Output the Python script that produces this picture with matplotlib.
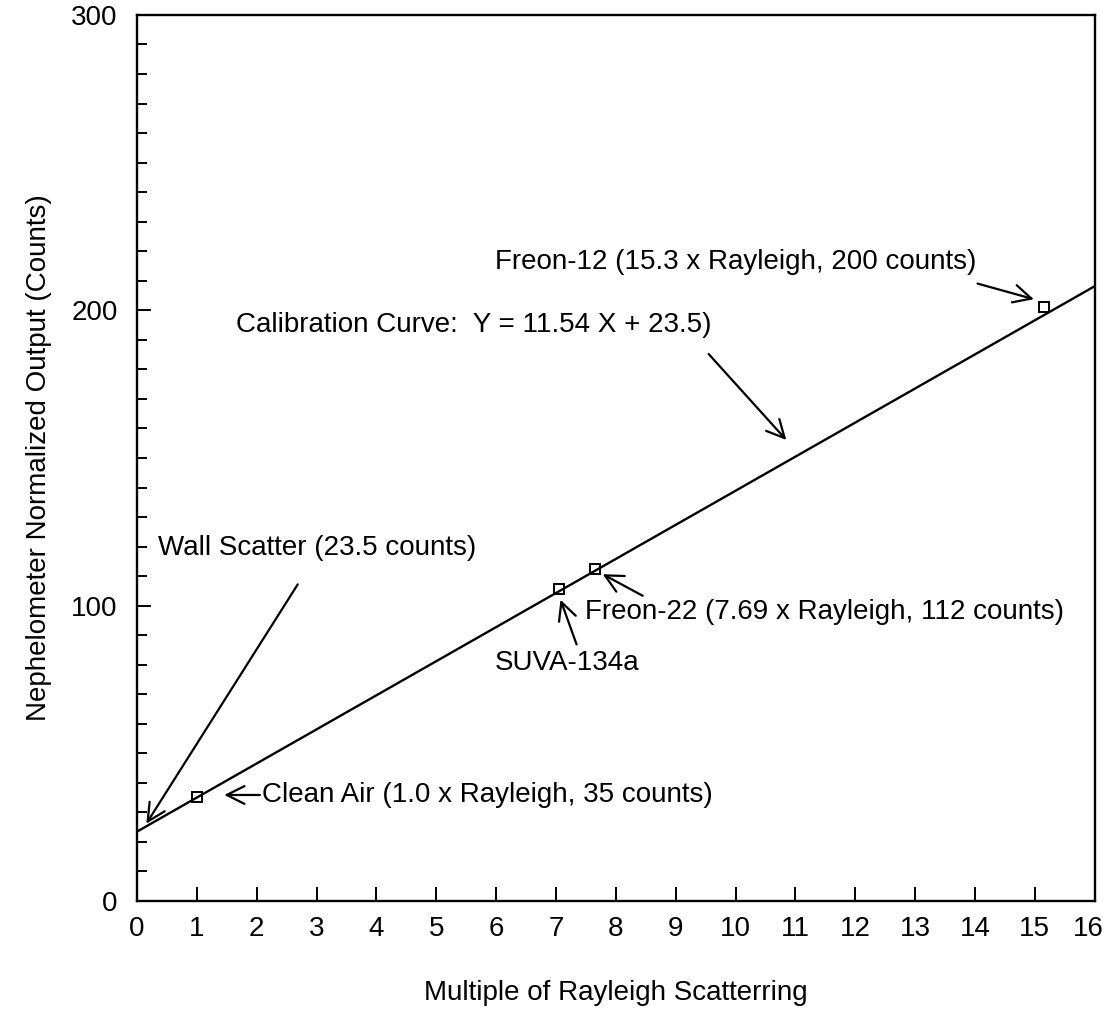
# nephelometer calibration chart
import matplotlib
matplotlib.use('Agg')
import matplotlib.pyplot as plt
import matplotlib.transforms as mtransforms
import numpy as np

plt.rcParams['font.family'] = ['Liberation Sans', 'DejaVu Sans']

# calibration points (multiple of Rayleigh, counts)
gas_names = ['Clean Air', 'SUVA-134a', 'Freon-22', 'Freon-12']
rayleigh_x = [1.0, 7.05, 7.65, 15.15]
counts_y = [35.3, 105.8, 112.4, 201.0]

# fit line Y = slope X + intercept
slope = 11.54
intercept = 23.5
fit_x = np.array([0, 16])
fit_y = slope * fit_x + intercept

fig = plt.figure(figsize=(11.07, 10.24), dpi=100)
ax = fig.add_axes([0.1238, 0.1201, 0.865, 0.8653])

ax.plot(fit_x, fit_y, color='black', lw=1.7)
ax.plot(rayleigh_x, counts_y, 's', mfc='none', mec='black', ms=7, mew=1.4)

ax.set_xlim(0, 16)
ax.set_ylim(0, 300)
ax.set_xticks(range(0, 17))
ax.set_yticks([0, 100, 200, 300])
ax.set_yticks(range(0, 301, 10), minor=True)
ax.tick_params(axis='x', direction='in', length=10, width=1.4, pad=11, labelsize=20)
ax.tick_params(axis='y', which='major', direction='in', length=10, width=1.4, pad=14, labelsize=20)
ax.tick_params(axis='y', which='minor', direction='in', length=7, width=1.4)
for s in ax.spines.values():
    s.set_linewidth(1.7)

# nudge the last x label so it stays inside the figure
shift = mtransforms.ScaledTranslation(-6 / 100, 0, fig.dpi_scale_trans)
last = ax.get_xticklabels()[-1]
last.set_transform(last.get_transform() + shift)

ax.set_xlabel('Multiple of Rayleigh Scatterring', fontsize=20, labelpad=27)
ax.set_ylabel('Nephelometer Normalized Output (Counts)', fontsize=20, labelpad=14)

arr = dict(arrowstyle='->', color='black', lw=1.6, mutation_scale=32)
fs = 20

ax.annotate('Freon-12 (15.3 x Rayleigh, 200 counts)', xy=(15.03, 203.5), xytext=(5.98, 216.4),
            fontsize=fs, va='center')
ax.annotate('', xy=(15.03, 203.5), xytext=(14.0, 209.3), arrowprops=arr)

ax.annotate('Calibration Curve:  Y = 11.54 X + 23.5)', xy=(10.88, 155.4), xytext=(1.66, 195.0),
            fontsize=fs, va='center')
ax.annotate('', xy=(10.88, 155.4), xytext=(9.52, 185.9), arrowprops=arr)

ax.annotate('Wall Scatter (23.5 counts)', xy=(0.13, 25.4), xytext=(0.35, 119.5),
            fontsize=fs, va='center')
ax.annotate('', xy=(0.13, 25.4), xytext=(2.71, 108.0), arrowprops=arr)

ax.annotate('Freon-22 (7.69 x Rayleigh, 112 counts)', xy=(7.74, 111.1), xytext=(7.48, 97.9),
            fontsize=fs, va='center')
ax.annotate('', xy=(7.74, 111.1), xytext=(8.49, 102.9), arrowprops=arr)

ax.annotate('SUVA-134a', xy=(7.06, 102.9), xytext=(5.98, 80.6), fontsize=fs, va='center')
ax.annotate('', xy=(7.06, 102.9), xytext=(7.36, 86.0), arrowprops=arr)

ax.annotate('Clean Air (1.0 x Rayleigh, 35 counts)', xy=(1.41, 35.9), xytext=(2.08, 35.9),
            fontsize=fs, va='center')
ax.annotate('', xy=(1.41, 35.9), xytext=(2.1, 35.9), arrowprops=arr)

fig.savefig('out.png', dpi=100)
